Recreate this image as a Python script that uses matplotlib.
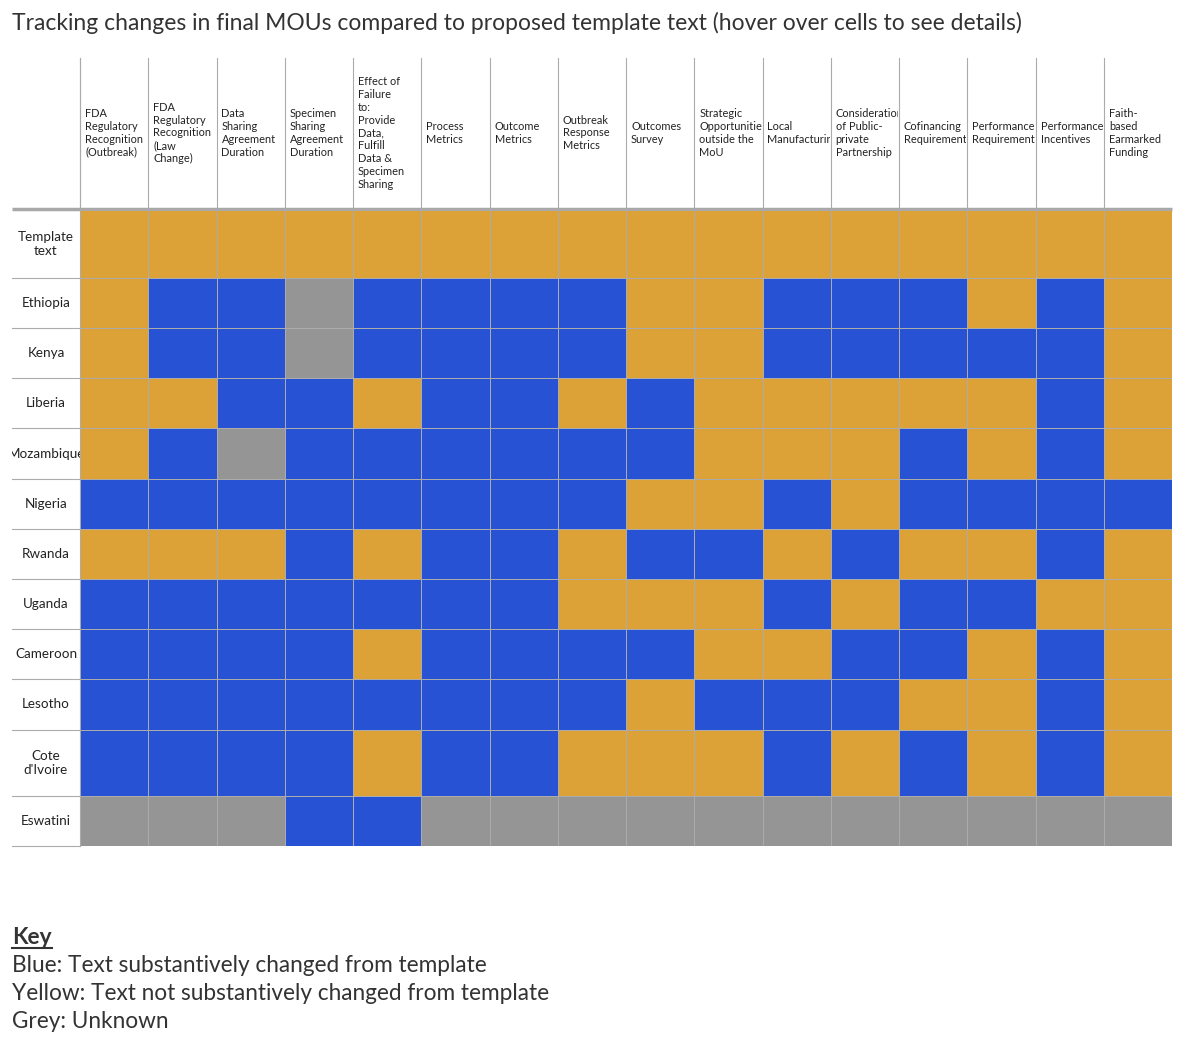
import numpy as np
import matplotlib
matplotlib.use("Agg")
import matplotlib.pyplot as plt
from matplotlib.colors import ListedColormap
from matplotlib.transforms import Bbox

# --- Data ---
TITLE = "Tracking changes in final MOUs compared to proposed template text (hover over cells to see details)"

columns = [
    "FDA\nRegulatory\nRecognition\n(Outbreak)",
    "FDA\nRegulatory\nRecognition\n(Law\nChange)",
    "Data\nSharing\nAgreement\nDuration",
    "Specimen\nSharing\nAgreement\nDuration",
    "Effect of\nFailure\nto:\nProvide\nData,\nFulfill\nData &\nSpecimen\nSharing",
    "Process\nMetrics",
    "Outcome\nMetrics",
    "Outbreak\nResponse\nMetrics",
    "Outcomes\nSurvey",
    "Strategic\nOpportunities\noutside the\nMoU",
    "Local\nManufacturing",
    "Consideration\nof Public-\nprivate\nPartnership",
    "Cofinancing\nRequirement",
    "Performance\nRequirement",
    "Performance\nIncentives",
    "Faith-\nbased\nEarmarked\nFunding",
]

rows = [
    "Template\ntext", "Ethiopia", "Kenya", "Liberia", "Mozambique", "Nigeria",
    "Rwanda", "Uganda", "Cameroon", "Lesotho", "Cote\nd'Ivoire", "Eswatini",
]

# Y = not substantively changed, B = substantively changed, G = unknown
status = [
    "YYYYYYYYYYYYYYYY",
    "YBBGBBBBYYBBBYBY",
    "YBBGBBBBYYBBBBBY",
    "YYBBYBBYBYYYYYBY",
    "YBGBBBBBBYYYBYBY",
    "BBBBBBBBYYBYBBBB",
    "YYYBYBBYBBYBYYBY",
    "BBBBBBBYYYBYBBYY",
    "BBBBYBBBBYYBBYBY",
    "BBBBBBBBYBBBYYBY",
    "BBBBYBBYYYBYBYBY",
    "GGGBBGGGGGGGGGGG",
]

key_lines = [
    "Blue: Text substantively changed from template",
    "Yellow: Text not substantively changed from template",
    "Grey: Unknown",
]

# --- Layout (pixels) ---
W, H = 1184, 1042
GRID_L, GRID_R = 80, 1172
LABEL_L = 12
HEAD_TOP, GRID_TOP = 58, 210
row_heights = [68, 50, 50, 50, 51, 50, 50, 50, 50, 51, 66, 50]

YELLOW = "#DCA237"
BLUE = "#2752D3"
GREY = "#959595"
LINE = "#ABABAB"
TEXT = "#222222"

plt.rcParams["font.family"] = ["Lato", "DejaVu Sans"]

code = {"B": 0, "Y": 1, "G": 2}
values = np.array([[code[c] for c in r] for r in status])

fig = plt.figure(figsize=(W / 100, H / 100), dpi=100)

# overlay axes in pixel coordinates for lines and text
ov = fig.add_axes([0, 0, 1, 1])
ov.set_xlim(0, W)
ov.set_ylim(H, 0)
ov.axis("off")

grid_bottom = GRID_TOP + sum(row_heights)
ax = fig.add_axes([GRID_L / W, 1 - grid_bottom / H,
                   (GRID_R - GRID_L) / W, (grid_bottom - GRID_TOP) / H])
y_edges = np.concatenate([[0], np.cumsum(row_heights)])
x_edges = np.arange(len(columns) + 1)
ax.pcolormesh(x_edges, y_edges, values,
              cmap=ListedColormap([BLUE, YELLOW, GREY]), vmin=-0.5, vmax=2.5,
              edgecolors=LINE, linewidth=0.72)
ax.set_xlim(0, len(columns))
ax.set_ylim(y_edges[-1], 0)
ax.axis("off")

cw = (GRID_R - GRID_L) / len(columns)

# header column separators
for i in range(len(columns)):
    x = GRID_L + i * cw
    ov.plot([x, x], [HEAD_TOP, GRID_TOP], color=LINE, lw=0.8)

# header labels, clipped to their column
for i, name in enumerate(columns):
    x = GRID_L + i * cw
    t = ov.text(x + 5, 133, name, ha="left", va="center", fontsize=7.9,
                color=TEXT, linespacing=1.2)
    t.set_clip_box(Bbox.from_extents(x + 1, 0, x + cw - 1, H))
    t.set_clip_on(True)

# row labels and separators in the label column
for j, name in enumerate(rows):
    top = GRID_TOP + y_edges[j]
    bot = GRID_TOP + y_edges[j + 1]
    ov.plot([LABEL_L, GRID_L], [bot, bot], color=LINE, lw=0.8)
    t = ov.text((LABEL_L + GRID_L) / 2, (top + bot) / 2, name, ha="center",
                va="center", fontsize=9.7, color=TEXT, linespacing=1.25)
    t.set_clip_box(Bbox.from_extents(LABEL_L, 0, GRID_L, H))
    t.set_clip_on(True)

ov.plot([GRID_L, GRID_L], [HEAD_TOP, grid_bottom], color=LINE, lw=0.8)
ov.plot([LABEL_L, GRID_R], [GRID_TOP - 1, GRID_TOP - 1], color="#A8A8A8", lw=2.5,
        solid_capstyle="butt")

# title
ov.text(LABEL_L, 23, TITLE, ha="left", va="center", fontsize=16.5, color="#333333")

# key
key = ov.text(LABEL_L, 937, "Key", ha="left", va="center", fontsize=16.3,
              fontweight="bold", color="#333333")
fig.canvas.draw()
bb = key.get_window_extent()
ov.plot([bb.x0, bb.x1], [948, 948], color="#333333", lw=1.5)
for k, line in enumerate(key_lines):
    ov.text(LABEL_L, 965 + k * 28, line, ha="left", va="center", fontsize=16.3,
            color="#333333")

fig.savefig("out.png", dpi=100)
